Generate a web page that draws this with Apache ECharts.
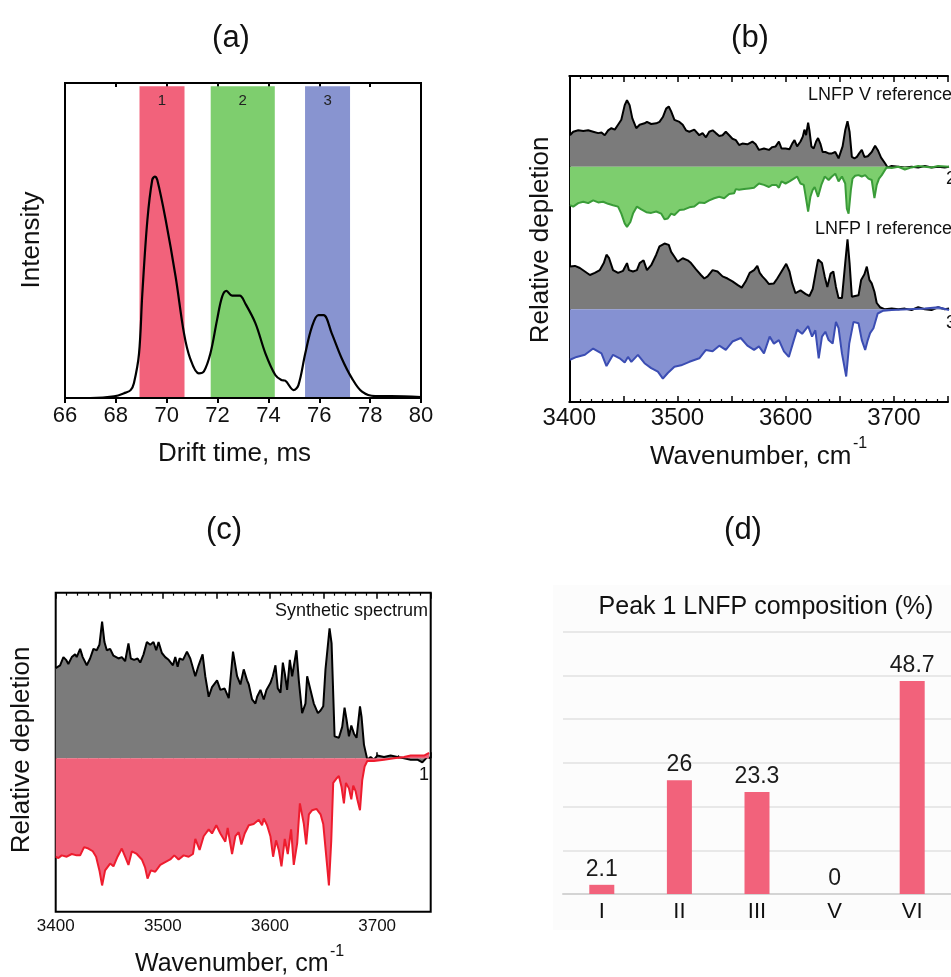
<!DOCTYPE html>
<html>
<head>
<meta charset="utf-8" />
<title>LNFP figure</title>
<script src="https://cdn.jsdelivr.net/npm/echarts@6/dist/echarts.min.js"></script>
<style>
  html, body { margin: 0; padding: 0; background: #fff; }
  #main { width: 951px; height: 977px; }
</style>
</head>
<body>
<div id="main"></div>
<script type="text/javascript">
// ---- (a) arrival time distribution ----
var driftTime = [66.0, 67.0, 67.93, 68.39, 68.58, 68.71, 68.91, 69.04, 69.24, 69.43, 69.53, 69.63, 69.96, 70.35, 70.68, 70.92,
  71.26, 71.46, 71.72, 71.98, 72.18, 72.35, 72.57, 72.87, 73.09, 73.49, 73.88, 74.27, 74.51, 74.66, 74.99, 75.18,
  75.45, 75.71, 75.97, 76.17, 76.49, 76.88, 77.28, 77.68, 78.2, 78.83, 80.0];
var intensity = [0.0, 0.0, 0.005, 0.017, 0.025, 0.047, 0.14, 0.33, 0.565, 0.692, 0.703, 0.692, 0.565, 0.385, 0.205, 0.126,
  0.078, 0.084, 0.142, 0.248, 0.322, 0.34, 0.325, 0.325, 0.30, 0.237, 0.142, 0.073, 0.057, 0.055, 0.025, 0.041,
  0.142, 0.226, 0.263, 0.263, 0.205, 0.126, 0.063, 0.02, 0.006, 0.006, 0.003];
var bandNames = ['1', '2', '3'];
var bandStart = [68.93, 71.73, 75.44];
var bandEnd = [70.70, 74.25, 77.21];

// ---- (b) reference spectra [wavenumber, relative depletion] ----
var lnfpVRef = [[3400.6,0.45],[3403.6,0.50],[3408.2,0.52],[3412.8,0.51],[3417.3,0.52],[3421.9,0.50],[3426.5,0.48],[3429.5,0.49],
  [3432.5,0.45],[3435.6,0.52],[3438.6,0.55],[3441.7,0.53],[3444.7,0.60],[3447.7,0.67],[3450.8,0.88],[3452.9,0.95],[3455.3,0.88],
  [3457.8,0.69],[3461.4,0.55],[3464.5,0.60],[3469.0,0.62],[3471.2,0.64],[3475.1,0.61],[3479.7,0.62],[3482.7,0.64],[3485.8,0.71],
  [3488.8,0.83],[3491.2,0.86],[3493.4,0.79],[3496.4,0.67],[3501.0,0.64],[3504.0,0.60],[3507.0,0.52],[3510.1,0.50],[3514.6,0.53],
  [3519.2,0.45],[3522.2,0.48],[3525.3,0.42],[3528.3,0.50],[3531.4,0.52],[3534.4,0.48],[3537.5,0.44],[3540.5,0.45],[3543.5,0.50],
  [3546.6,0.45],[3549.6,0.40],[3552.7,0.38],[3555.7,0.31],[3558.7,0.33],[3563.3,0.32],[3567.9,0.36],[3570.9,0.32],[3573.9,0.24],
  [3578.5,0.26],[3583.1,0.24],[3586.1,0.28],[3589.2,0.29],[3592.2,0.36],[3594.6,0.26],[3598.3,0.26],[3601.9,0.25],[3604.4,0.33],
  [3606.5,0.38],[3608.9,0.29],[3612.0,0.36],[3614.1,0.43],[3615.6,0.53],[3617.1,0.45],[3619.0,0.63],[3620.2,0.52],[3622.0,0.29],
  [3624.1,0.26],[3626.3,0.36],[3628.1,0.41],[3630.2,0.33],[3632.3,0.21],[3634.8,0.21],[3637.8,0.19],[3640.8,0.19],[3643.9,0.21],
  [3646.9,0.12],[3650.6,0.29],[3653.0,0.52],[3655.1,0.65],[3657.0,0.50],[3659.1,0.14],[3661.5,0.12],[3663.7,0.14],[3665.8,0.19],
  [3668.2,0.24],[3670.6,0.14],[3673.7,0.15],[3677.3,0.21],[3680.4,0.30],[3682.8,0.24],[3685.9,0.13],[3689.5,0.05],[3691.9,-0.01],
  [3695.6,0.01],[3701.7,0.00],[3707.7,-0.01],[3713.8,0.00],[3719.9,-0.01],[3726.0,0.01],[3732.1,-0.01],[3738.2,0.00],[3744.2,-0.01],
  [3748.2,0.00]];
var peak2 = [[3400.6,-0.55],[3403.6,-0.57],[3408.2,-0.52],[3412.8,-0.50],[3417.3,-0.52],[3421.9,-0.48],[3426.5,-0.51],[3431.0,-0.50],
  [3435.6,-0.53],[3440.1,-0.55],[3444.7,-0.57],[3447.7,-0.67],[3450.8,-0.81],[3452.9,-0.86],[3456.0,-0.79],[3458.4,-0.67],[3462.0,-0.57],
  [3466.0,-0.61],[3470.6,-0.65],[3475.1,-0.66],[3479.7,-0.64],[3484.2,-0.67],[3487.3,-0.75],[3490.3,-0.74],[3493.4,-0.67],[3496.4,-0.69],
  [3501.0,-0.62],[3505.5,-0.61],[3510.1,-0.58],[3514.6,-0.57],[3519.2,-0.51],[3523.8,-0.52],[3528.3,-0.48],[3532.9,-0.45],[3537.5,-0.43],
  [3542.0,-0.45],[3546.6,-0.39],[3551.1,-0.38],[3552.7,-0.32],[3555.7,-0.33],[3560.3,-0.32],[3564.8,-0.31],[3569.4,-0.30],[3573.9,-0.24],
  [3578.5,-0.26],[3583.1,-0.29],[3586.1,-0.26],[3589.8,-0.26],[3592.2,-0.30],[3594.6,-0.21],[3598.3,-0.24],[3601.9,-0.21],[3605.9,-0.17],
  [3608.9,-0.14],[3612.0,-0.24],[3615.0,-0.26],[3616.5,-0.40],[3619.0,-0.64],[3621.1,-0.43],[3623.2,-0.33],[3625.0,-0.29],[3628.1,-0.43],
  [3631.1,-0.26],[3634.2,-0.14],[3637.8,-0.19],[3640.8,-0.14],[3643.9,-0.10],[3646.9,-0.21],[3650.0,-0.14],[3653.0,-0.24],[3654.5,-0.60],
  [3656.1,-0.67],[3658.2,-0.33],[3659.7,-0.17],[3662.1,-0.13],[3665.2,-0.12],[3668.2,-0.14],[3671.3,-0.12],[3674.3,-0.17],[3677.3,-0.19],
  [3679.8,-0.45],[3681.9,-0.26],[3684.0,-0.17],[3686.5,-0.12],[3688.9,-0.06],[3691.0,-0.01],[3695.6,-0.02],[3701.7,0.00],[3707.7,-0.04],
  [3713.8,-0.01],[3719.9,0.01],[3726.0,0.00],[3732.1,-0.01],[3738.2,0.01],[3748.2,0.00]];
var lnfpIRef = [[3400.6,0.61],[3405.2,0.62],[3409.7,0.59],[3414.3,0.54],[3418.9,0.49],[3423.4,0.52],[3428.0,0.56],[3431.6,0.66],
  [3434.1,0.78],[3436.5,0.73],[3440.1,0.56],[3444.7,0.52],[3449.3,0.55],[3452.9,0.66],[3454.7,0.56],[3458.4,0.54],[3462.0,0.56],
  [3464.5,0.66],[3468.1,0.70],[3471.2,0.56],[3475.1,0.63],[3479.7,0.78],[3482.7,0.90],[3487.3,0.94],[3491.2,0.92],[3493.4,0.82],
  [3496.4,0.75],[3499.4,0.68],[3504.0,0.73],[3508.6,0.70],[3511.6,0.66],[3516.2,0.57],[3520.7,0.49],[3523.8,0.44],[3526.8,0.47],
  [3531.4,0.56],[3535.9,0.54],[3540.5,0.47],[3545.1,0.44],[3549.6,0.40],[3554.2,0.35],[3558.1,0.31],[3561.8,0.40],[3565.4,0.52],
  [3569.4,0.56],[3572.4,0.62],[3574.6,0.52],[3577.0,0.47],[3580.0,0.42],[3583.1,0.36],[3587.6,0.37],[3590.7,0.44],[3594.6,0.54],
  [3598.9,0.65],[3601.9,0.54],[3604.4,0.37],[3607.4,0.23],[3612.0,0.27],[3616.5,0.22],[3620.2,0.19],[3623.2,0.29],[3626.3,0.56],
  [3628.1,0.71],[3631.7,0.66],[3634.2,0.47],[3636.6,0.32],[3639.6,0.51],[3642.1,0.54],[3644.5,0.32],[3646.9,0.16],[3650.0,0.16],
  [3653.0,0.66],[3655.1,1.00],[3657.0,0.66],[3659.1,0.18],[3662.1,0.19],[3665.2,0.20],[3667.6,0.42],[3670.6,0.50],[3672.8,0.61],
  [3675.2,0.42],[3677.3,0.37],[3679.8,0.25],[3681.9,0.09],[3684.9,0.03],[3689.5,0.00],[3695.6,0.01],[3701.7,0.00],[3707.7,0.01],
  [3713.8,-0.01],[3719.9,0.03],[3726.0,0.00],[3732.1,-0.01],[3738.2,0.03],[3744.2,0.00],[3748.2,0.01]];
var peak3 = [[3400.6,-0.72],[3406.7,-0.68],[3414.3,-0.65],[3421.9,-0.56],[3429.5,-0.63],[3434.1,-0.81],[3440.1,-0.65],[3446.2,-0.70],
  [3450.8,-0.76],[3453.8,-0.68],[3456.9,-0.75],[3462.9,-0.65],[3469.0,-0.77],[3475.1,-0.84],[3481.2,-0.89],[3485.8,-0.99],[3490.3,-0.91],
  [3496.4,-0.82],[3502.5,-0.80],[3510.1,-0.75],[3519.2,-0.70],[3525.3,-0.58],[3531.4,-0.60],[3537.5,-0.52],[3543.5,-0.58],[3549.6,-0.46],
  [3557.2,-0.41],[3563.3,-0.52],[3569.4,-0.58],[3573.9,-0.53],[3578.5,-0.63],[3583.7,-0.39],[3587.6,-0.49],[3592.2,-0.44],[3596.8,-0.60],
  [3601.3,-0.68],[3605.9,-0.44],[3608.9,-0.29],[3613.5,-0.35],[3619.0,-0.24],[3622.6,-0.39],[3625.6,-0.30],[3628.7,-0.70],[3631.7,-0.39],
  [3634.8,-0.32],[3637.8,-0.44],[3641.5,-0.49],[3644.5,-0.18],[3646.9,-0.27],[3650.0,-0.63],[3653.9,-0.96],[3656.7,-0.49],[3660.6,-0.18],
  [3665.2,-0.20],[3668.2,-0.44],[3671.3,-0.58],[3673.7,-0.44],[3675.8,-0.34],[3678.9,-0.27],[3682.8,-0.06],[3688.0,-0.02],[3695.6,-0.01],
  [3710.8,0.00],[3726.0,0.01],[3738.2,0.03],[3748.2,-0.01]];

// ---- (c) synthetic spectrum vs peak 1 ----
var synthetic = [[3400.0,0.66],[3404.1,0.68],[3407.2,0.74],[3409.7,0.72],[3411.8,0.69],[3415.0,0.74],[3418.1,0.76],[3419.6,0.74],
  [3422.8,0.80],[3425.2,0.74],[3429.0,0.68],[3432.1,0.73],[3435.2,0.80],[3438.3,0.79],[3440.8,0.83],[3443.3,1.00],[3445.5,0.85],
  [3447.7,0.79],[3450.8,0.80],[3453.9,0.75],[3458.6,0.73],[3461.7,0.74],[3464.8,0.71],[3467.9,0.84],[3470.1,0.73],[3473.2,0.72],
  [3476.4,0.73],[3478.9,0.70],[3482.0,0.76],[3485.1,0.85],[3488.2,0.83],[3491.3,0.85],[3493.8,0.79],[3496.0,0.85],[3499.1,0.77],
  [3502.2,0.74],[3505.4,0.72],[3509.4,0.68],[3511.6,0.74],[3513.8,0.67],[3515.6,0.73],[3518.8,0.72],[3522.5,0.78],[3525.6,0.73],
  [3530.3,0.60],[3533.4,0.68],[3537.1,0.76],[3539.6,0.60],[3542.8,0.45],[3545.9,0.52],[3550.6,0.57],[3553.7,0.50],[3557.7,0.51],
  [3561.5,0.44],[3565.5,0.78],[3569.3,0.60],[3572.4,0.54],[3575.5,0.65],[3578.6,0.57],[3580.2,0.54],[3583.3,0.43],[3586.4,0.40],
  [3588.0,0.45],[3591.1,0.50],[3594.2,0.43],[3596.7,0.50],[3600.4,0.55],[3602.6,0.60],[3605.1,0.68],[3607.3,0.51],[3609.8,0.48],
  [3612.0,0.70],[3613.8,0.62],[3616.0,0.50],[3618.5,0.72],[3620.7,0.60],[3622.2,0.61],[3624.7,0.79],[3626.9,0.57],[3630.0,0.33],
  [3633.1,0.40],[3634.7,0.60],[3637.8,0.50],[3640.9,0.40],[3644.7,0.33],[3647.2,0.35],[3649.7,0.38],[3651.8,0.65],[3655.6,0.95],
  [3657.5,0.84],[3660.3,0.16],[3664.3,0.15],[3667.4,0.23],[3669.6,0.37],[3671.5,0.28],[3673.7,0.16],[3675.9,0.24],[3678.4,0.18],
  [3680.8,0.15],[3684.0,0.38],[3685.5,0.30],[3687.7,0.10],[3690.8,-0.01],[3693.9,0.01],[3697.0,-0.01],[3700.2,0.02],[3706.4,0.01],
  [3712.6,0.02],[3718.9,0.01],[3725.1,0.00],[3731.3,-0.01],[3737.6,-0.01],[3742.2,-0.03],[3746.9,0.01],[3750.0,0.00]];
var peak1 = [[3400.0,-0.72],[3402.5,-0.73],[3405.6,-0.71],[3410.3,-0.72],[3415.0,-0.70],[3419.6,-0.71],[3422.8,-0.71],[3426.5,-0.65],
  [3430.5,-0.66],[3434.6,-0.68],[3437.7,-0.72],[3440.8,-0.82],[3443.3,-0.93],[3446.1,-0.82],[3450.8,-0.77],[3453.9,-0.79],[3457.7,-0.72],
  [3461.7,-0.66],[3464.8,-0.72],[3467.9,-0.78],[3471.1,-0.68],[3475.7,-0.70],[3480.4,-0.74],[3483.5,-0.80],[3485.7,-0.88],[3488.8,-0.82],
  [3492.9,-0.83],[3497.6,-0.78],[3502.2,-0.76],[3506.9,-0.74],[3510.7,-0.71],[3514.7,-0.74],[3519.4,-0.71],[3524.1,-0.72],[3528.1,-0.70],
  [3530.3,-0.59],[3534.3,-0.67],[3538.1,-0.57],[3542.8,-0.52],[3545.9,-0.55],[3549.9,-0.49],[3553.7,-0.55],[3558.3,-0.61],[3560.5,-0.51],
  [3564.6,-0.70],[3567.7,-0.57],[3570.8,-0.54],[3573.3,-0.63],[3576.4,-0.55],[3580.2,-0.49],[3584.8,-0.48],[3589.5,-0.45],[3592.6,-0.49],
  [3594.2,-0.44],[3597.3,-0.49],[3600.4,-0.57],[3602.9,-0.72],[3605.7,-0.60],[3608.2,-0.67],[3610.7,-0.79],[3613.8,-0.59],[3616.6,-0.70],
  [3619.7,-0.52],[3622.2,-0.78],[3625.4,-0.62],[3627.9,-0.33],[3631.6,-0.48],[3633.8,-0.63],[3636.3,-0.41],[3639.4,-0.38],[3643.4,-0.37],
  [3647.2,-0.41],[3649.7,-0.48],[3653.4,-0.79],[3655.0,-0.93],[3657.2,-0.60],[3659.0,-0.18],[3661.8,-0.15],[3664.3,-0.13],[3666.8,-0.21],
  [3669.0,-0.33],[3670.9,-0.18],[3673.7,-0.22],[3675.9,-0.30],[3677.7,-0.20],[3679.9,-0.24],[3681.5,-0.30],[3684.0,-0.38],[3686.1,-0.16],
  [3688.3,-0.06],[3690.8,-0.02],[3697.0,-0.02],[3706.4,-0.01],[3715.7,0.00],[3725.1,0.01],[3731.3,0.02],[3737.6,0.02],[3743.8,0.02],
  [3748.5,0.04]];

// ---- (d) composition ----
var isomers = ['I', 'II', 'III', 'V', 'VI'];
var composition = [2.1, 26, 23.3, 0, 48.7];

var FONT = 'Liberation Sans, Arial, Helvetica, sans-serif';
var GREY = '#7b7b7b';

function spec(data, xi, yi, line, fill, z) {
  return {
    type: 'line', data: data, xAxisIndex: xi, yAxisIndex: yi,
    showSymbol: false, silent: true, z: z,
    lineStyle: { color: line, width: 2 },
    areaStyle: { color: fill, opacity: 1 }
  };
}

function txt(x, y, s, size, opts) {
  opts = opts || {};
  return {
    type: 'text', x: x, y: y, rotation: opts.rot || 0, z: 100,
    style: {
      text: s, fill: opts.color || '#111', font: size + 'px ' + FONT,
      align: opts.align || 'center', verticalAlign: 'middle',
      textAlign: opts.align || 'center', textVerticalAlign: 'middle'
    }
  };
}

function waveAxis(grid, pos, labelSize, labelMargin, line) {
  return {
    type: 'value', gridIndex: grid, position: pos, min: 3400, max: 3750, interval: 50,
    axisLine: { show: !!line, lineStyle: { color: '#000', width: 2 } },
    axisTick: { show: true, inside: true, length: 6, lineStyle: { color: '#000', width: 1.5 } },
    minorTick: { show: true, splitNumber: 5, length: 3, lineStyle: { color: '#000', width: 1.2 } },
    axisLabel: {
      show: pos === 'bottom', fontSize: labelSize, fontFamily: FONT, color: '#111', margin: labelMargin,
      formatter: function (v) { return v % 100 === 0 ? String(v) : ''; }
    },
    splitLine: { show: false }
  };
}

var bandColors = ['#f2627b', '#7ece6e', '#8894d0'];
var bands = bandNames.map(function (n, i) {
  return [{ xAxis: bandStart[i], yAxis: 0.003, name: n, itemStyle: { color: bandColors[i] } },
          { xAxis: bandEnd[i], yAxis: 0.99 }];
});

var myChart = echarts.init(document.getElementById('main'));
var option = {
  animation: false,
  backgroundColor: '#fff',
  graphic: [
    { type: 'rect', shape: { x: 553, y: 585, width: 400, height: 345 }, style: { fill: '#fcfcfc' }, z: -10 },
    txt(231, 38, '(a)', 31), txt(750, 38, '(b)', 31), txt(224, 530, '(c)', 31), txt(743, 530, '(d)', 31),
    txt(32, 240, 'Intensity', 26, { rot: Math.PI / 2 }),
    txt(541, 240, 'Relative depletion', 26, { rot: Math.PI / 2 }),
    txt(22, 750, 'Relative depletion', 26, { rot: Math.PI / 2 }),
    txt(158, 454, 'Drift time, ms', 26, { align: 'left' }),
    txt(650, 457, 'Wavenumber, cm', 26, { align: 'left' }),
    txt(853, 444, '-1', 16, { align: 'left' }),
    txt(135, 964, 'Wavenumber, cm', 25, { align: 'left' }),
    txt(330, 952, '-1', 16, { align: 'left' }),
    txt(808, 95, 'LNFP V reference', 18, { align: 'left' }),
    txt(815, 229, 'LNFP I reference', 18, { align: 'left' }),
    txt(946, 179, '2', 18, { align: 'left' }),
    txt(946, 323, '3', 18, { align: 'left' }),
    txt(428, 611, 'Synthetic spectrum', 18, { align: 'right' }),
    txt(424, 775, '1', 18),
    txt(766, 607, 'Peak 1 LNFP composition (%)', 25)
  ],
  grid: [
    { left: 65, width: 356, top: 83, height: 315, show: true, borderColor: '#000', borderWidth: 2 },
    { left: 569.3, width: 383.3, top: 76, height: 326 },
    { left: 569.3, width: 383.3, top: 76, height: 160.7 },
    { left: 569.3, width: 383.3, top: 218.3, height: 183.7 },
    { left: 55.7, width: 375, top: 592.7, height: 319, show: true, borderColor: '#000', borderWidth: 2 },
    { left: 563, width: 397.5, top: 631.6, height: 262.4 }
  ],
  xAxis: [
    { type: 'value', gridIndex: 0, position: 'bottom', min: 66, max: 80, interval: 2,
      axisLine: { show: false },
      axisTick: { show: true, inside: false, length: 5, lineStyle: { color: '#000', width: 2 } },
      axisLabel: { fontSize: 22, fontFamily: FONT, color: '#111', margin: 7 },
      splitLine: { show: false } },
    { type: 'value', gridIndex: 0, position: 'top', min: 66, max: 80, interval: 2,
      axisLine: { show: false },
      axisTick: { show: true, inside: true, length: 4, lineStyle: { color: '#000', width: 2 } },
      axisLabel: { show: false }, splitLine: { show: false } },
    waveAxis(1, 'bottom', 24, 4, true),
    waveAxis(1, 'top', 24, 4, true),
    { type: 'value', gridIndex: 2, min: 3400, max: 3750, show: false },
    { type: 'value', gridIndex: 3, min: 3400, max: 3750, show: false },
    waveAxis(4, 'bottom', 17, 6, false),
    waveAxis(4, 'top', 17, 6, false),
    { type: 'category', gridIndex: 5, data: isomers,
      axisLine: { show: true, lineStyle: { color: '#d4d4d4', width: 2 } },
      axisTick: { show: false },
      axisLabel: { fontSize: 22, fontFamily: FONT, color: '#111', margin: 7 } }
  ],
  yAxis: [
    { type: 'value', gridIndex: 0, min: 0, max: 1, show: false },
    { type: 'value', gridIndex: 1, min: 0, max: 1, position: 'left',
      axisLine: { show: true, lineStyle: { color: '#000', width: 2 } },
      axisTick: { show: false }, axisLabel: { show: false }, splitLine: { show: false } },
    { type: 'value', gridIndex: 2, min: -1, max: 1.296, show: false },
    { type: 'value', gridIndex: 3, min: -1.324, max: 1.3, show: false },
    { type: 'value', gridIndex: 4, min: -1.122, max: 1.211, show: false },
    { type: 'value', gridIndex: 5, min: 0, max: 60, interval: 10,
      axisLine: { show: false }, axisTick: { show: false }, axisLabel: { show: false },
      splitLine: { show: true, lineStyle: { color: '#e2e2e2', width: 1.5 } } }
  ],
  series: [
    { type: 'line', xAxisIndex: 0, yAxisIndex: 0, showSymbol: false, smooth: 0.35, z: 5,
      data: driftTime.map(function (t, i) { return [t, intensity[i]]; }),
      lineStyle: { color: '#000', width: 2.2 },
      markArea: {
        silent: true, z: 1,
        label: { show: true, position: 'insideTop', distance: 7, fontSize: 15, fontFamily: FONT, color: '#222' },
        data: bands
      } },
    spec(lnfpVRef, 4, 2, '#000', GREY, 3),
    spec(peak2, 4, 2, '#3a9c38', '#7dce6e', 4),
    spec(lnfpIRef, 5, 3, '#000', GREY, 3),
    spec(peak3, 5, 3, '#3b4db3', '#8591d2', 4),
    spec(synthetic, 6, 4, '#000', GREY, 3),
    spec(peak1, 6, 4, '#ee1c2e', '#f0627a', 4),
    { type: 'bar', xAxisIndex: 8, yAxisIndex: 5, data: composition, barWidth: 25,
      itemStyle: { color: '#f2627b' },
      label: { show: true, position: 'top', distance: 4, fontSize: 23, fontFamily: FONT, color: '#1a1a1a' } }
  ]
};
myChart.setOption(option);
</script>
</body>
</html>
